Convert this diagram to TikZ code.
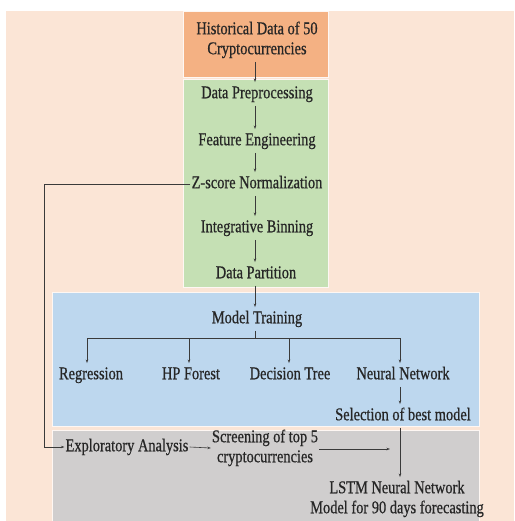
\documentclass[tikz,border=0pt]{standalone}
\usepackage{fontspec}
\setmainfont[FakeStretch=0.8,FakeBold=0.6]{Liberation Serif}
\usepackage{xcolor}
\usetikzlibrary{arrows.meta}

\definecolor{peach}{HTML}{FBE5D6}
\definecolor{orangebox}{HTML}{F4B183}
\definecolor{greenbox}{HTML}{C5E0B4}
\definecolor{bluebox}{HTML}{BDD7EE}
\definecolor{greybox}{HTML}{D0CECE}
\definecolor{linegrey}{HTML}{3A3A3A}

\begin{document}
\begin{tikzpicture}[x=1pt,y=-1pt,
    lbl/.style={inner xsep=1pt,inner ysep=4pt,text height=12pt,text depth=3.5pt,
      font=\fontsize{18}{20}\selectfont,align=center,text=black!85},
    lbltwo/.style={lbl,text height=32pt},
    panel/.style={draw=white!70!peach,line width=0.6pt},
    arr/.style={-{Stealth[length=3.5pt,width=2.5pt]},line width=0.6pt,draw=linegrey},
    ln/.style={line width=0.6pt,draw=linegrey}]
    \useasboundingbox (0,0) rectangle (514,521);
    % coloured panels
    \fill[peach] (6,11) rectangle (514,521);
    \filldraw[panel,fill=orangebox] (183,11) rectangle (328,77);
    \filldraw[panel,fill=greenbox] (183,79) rectangle (328,287);
    \filldraw[panel,fill=bluebox] (52,292) rectangle (479,426);
    \filldraw[panel,fill=greybox] (52,430) rectangle (479,521);
    % steps
    \node[lbltwo] (hist) at (257,40) {Historical Data of 50\\Cryptocurrencies};
    \node[lbl] (prep) at (257,94) {Data Preprocessing};
    \node[lbl] (feat) at (257,141) {Feature Engineering};
    \node[lbl] (zscore) at (257,184) {Z-score Normalization};
    \node[lbl] (binning) at (257,228) {Integrative Binning};
    \node[lbl] (part) at (256,274) {Data Partition};
    \node[lbl] (train) at (257,319) {Model Training};
    \node[lbl] (regr) at (91,375) {Regression};
    \node[lbl] (hpf) at (191,375) {HP Forest};
    \node[lbl] (dtree) at (290,375) {Decision Tree};
    \node[lbl] (nnet) at (403,375) {Neural Network};
    \node[lbl] (best) at (403,416) {Selection of best model};
    \node[lbl] (explore) at (127,447) {Exploratory Analysis};
    \node[lbltwo] (screen) at (265,448) {Screening of top 5\\cryptocurrencies};
    \node[lbltwo] (lstm) at (397,499) {LSTM Neural Network\\Model for 90 days forecasting};
    \coordinate (fork) at (255,338);
    \coordinate (loop) at (44,184);
    \coordinate (scrend) at (390,449);
    % connectors
    \draw[arr] (hist.south -| 255,0) -- (prep.north -| 255,0);
    \draw[arr] (prep.south -| 255,0) -- (feat.north -| 255,0);
    \draw[arr] (feat.south -| 255,0) -- (zscore.north -| 255,0);
    \draw[arr] (zscore.south -| 255,0) -- (binning.north -| 255,0);
    \draw[arr] (binning.south -| 255,0) -- (part.north -| 255,0);
    \draw[arr] (part.south -| 255,0) -- (train.north -| 255,0);
    \draw[ln] (train.south -| 255,0) -- (fork);
    \draw[ln] (fork -| 87,0) -- (fork -| 400,0);
    \draw[arr] (fork -| 87,0) -- (regr.north -| 87,0);
    \draw[arr] (fork -| 189,0) -- (hpf.north -| 189,0);
    \draw[arr] (fork -| 289,0) -- (dtree.north -| 289,0);
    \draw[arr] (fork -| 400,0) -- (nnet.north -| 400,0);
    \draw[arr] (nnet.south -| 400,0) -- (best.north -| 400,0);
    \draw[arr] (best.south -| 400,0) -- (lstm.north -| 400,0);
    \draw[arr] (zscore.west) -- (loop) |- (explore.west);
    \draw[arr] (explore.east) -- (screen.west);
    \draw[arr] (screen.east |- scrend) -- (scrend);
\end{tikzpicture}
\end{document}
